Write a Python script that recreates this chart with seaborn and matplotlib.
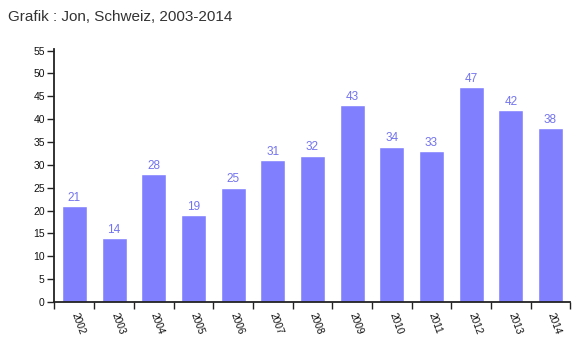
import matplotlib
matplotlib.use("Agg")
import matplotlib.pyplot as plt
import seaborn as sns
import pandas as pd
import numpy as np

years = ["2002", "2003", "2004", "2005", "2006", "2007", "2008",
         "2009", "2010", "2011", "2012", "2013", "2014"]
counts = [21, 14, 28, 19, 25, 31, 32, 43, 34, 33, 47, 42, 38]
title = "Grafik : Jon, Schweiz, 2003-2014"

sns.set_style("white")
plt.rcParams["font.family"] = ["Liberation Sans", "DejaVu Sans"]

bar_color = "#8080ff"
label_color = "#7373ee"
axis_color = "#222222"

df = pd.DataFrame({"year": years, "count": counts})

fig = plt.figure(figsize=(5.82, 3.39), dpi=100)
ax = fig.add_axes([0.0936, 0.109, 0.8864, 0.746])

sns.barplot(data=df, x="year", y="count", color=bar_color, saturation=1,
            width=0.63, ax=ax)

for i, v in enumerate(counts):
    ax.text(i, v + 0.5, str(v), ha="center", va="bottom",
            fontsize=8.5, color=label_color)

ax.set_ylim(0, 55.3)
ax.set_xlim(-0.5, len(years) - 0.5)
ax.set_yticks(np.arange(0, 56, 5))
ax.set_xlabel("")
ax.set_ylabel("")

for s in ["top", "right"]:
    ax.spines[s].set_visible(False)
for s in ["left", "bottom"]:
    ax.spines[s].set_color(axis_color)
    ax.spines[s].set_linewidth(1.3)

ax.tick_params(axis="y", which="major", length=5, width=1, color=axis_color,
               labelsize=7.5, pad=2, labelcolor="#111111", left=True)
# year labels sit mid-band, tick marks sit on the band edges
ax.set_xticks(np.arange(len(years)))
ax.set_xticklabels(years, rotation=-70, ha="left", va="center",
                   rotation_mode="anchor", fontsize=7.3, color="#111111")
ax.tick_params(axis="x", which="major", length=0, pad=8, bottom=True)
ax.set_xticks(np.arange(len(years) + 1) - 0.5, minor=True)
ax.tick_params(axis="x", which="minor", length=5, width=1, color=axis_color,
               bottom=True)

fig.text(8 / 582, 1 - 17 / 339, title, ha="left", va="center",
         fontsize=11, color="#333333")

fig.savefig("out.png", dpi=100)
